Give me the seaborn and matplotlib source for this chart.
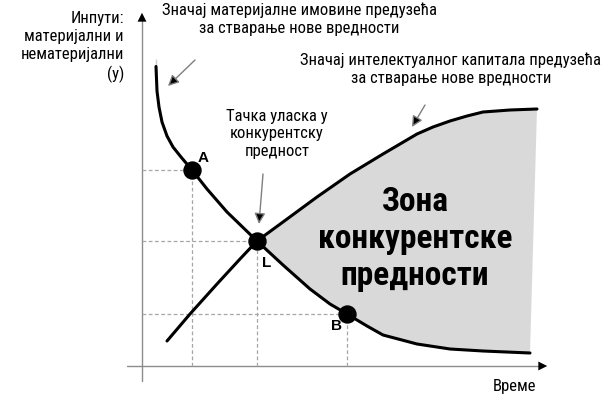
import numpy as np
import pandas as pd
import matplotlib
matplotlib.use("Agg")
import matplotlib.pyplot as plt
import seaborn as sns

# curve values (time, input)
mat_t = [14, 14, 15, 17, 20, 25, 31, 39, 50, 65, 85, 115, 141, 168, 188, 205, 225, 241, 275, 308, 341, 388]
mat_y = [307, 292, 275, 259, 244, 230, 219, 209, 196, 177, 154, 125, 101, 77, 62, 52, 40, 31, 22, 17, 15, 13]
int_t = [25, 48, 75, 98, 115, 141, 175, 208, 241, 275, 291, 308, 325, 341, 368, 395]
int_y = [25, 52, 82, 107, 125, 144, 169, 192, 212, 232, 239, 245, 250, 254, 256, 257]

pt_names = ["A", "L", "B"]
pt_t = [50, 115, 205]
pt_y = [196, 125, 52]

sns.set_theme(style="white")
narrow = ["Roboto Condensed", "DejaVu Sans"]
plt.rcParams["font.family"] = narrow
plt.rcParams["text.color"] = "black"

fig = plt.figure(figsize=(6.12, 4.06), dpi=100)
ax = fig.add_axes([0, 0, 1, 1])
ax.set_xlim(-142, 470)
ax.set_ylim(-39, 367)
ax.axis("off")

mat = pd.DataFrame({"t": mat_t, "y": mat_y})
intel = pd.DataFrame({"t": int_t, "y": int_y})

# shaded zone between the curves, right of L
i_l = int_t.index(115)
m_l = mat_t.index(115)
zone_t = int_t[i_l:] + mat_t[m_l:][::-1]
zone_y = int_y[i_l:] + mat_y[m_l:][::-1]
ax.fill(zone_t, zone_y, color="#d9d9d9", lw=0, zorder=1)

# axes with arrow heads
ax.plot([0, 0], [-15, 345], color="#8c8c8c", lw=1, zorder=2)
ax.plot([-15, 397], [0, 0], color="#8c8c8c", lw=1, zorder=2)
ax.annotate("", xy=(0, 356), xytext=(0, 340),
            arrowprops=dict(arrowstyle="-|>", color="black", lw=0, mutation_scale=16), zorder=3)
ax.annotate("", xy=(408, 0), xytext=(392, 0),
            arrowprops=dict(arrowstyle="-|>", color="black", lw=0, mutation_scale=16), zorder=3)

# dashed guides
for t, y in zip(pt_t, pt_y):
    ax.plot([0, t], [y, y], ls=(0, (3, 2)), color="#a6a6a6", lw=0.9, zorder=2)
    ax.plot([t, t], [0, y], ls=(0, (3, 2)), color="#a6a6a6", lw=0.9, zorder=2)

sns.lineplot(data=mat, x="t", y="y", sort=False, color="black", lw=2.2, ax=ax, zorder=4)
sns.lineplot(data=intel, x="t", y="y", sort=False, color="black", lw=2.2, ax=ax, zorder=4)
for ln in ax.lines[-2:]:
    ln.set_solid_joinstyle("round")
sns.scatterplot(x=pt_t, y=pt_y, color="black", s=150, edgecolor="black", ax=ax, zorder=5)

lab_off = {"A": (11, 13), "L": (10, -21), "B": (-10, -11)}
for n, t, y in zip(pt_names, pt_t, pt_y):
    dx, dy = lab_off[n]
    ax.text(t + dx, y + dy, n, fontsize=11, fontweight="bold",
            family=["Liberation Sans", "DejaVu Sans"], ha="center", va="center", zorder=6)

# annotation arrows
arrows = [((53, 306), (26, 280)), ((283, 261), (270, 239)), ((121, 192), (117, 142))]
for tail, head in arrows:
    ax.annotate("", xy=head, xytext=tail,
                arrowprops=dict(arrowstyle="-|>", fc="black", ec="#7f7f7f", lw=1,
                                mutation_scale=16, shrinkA=0, shrinkB=0), zorder=6)

fs = 12
ax.text(-18, 356, "Инпути:\nматеријални и\nнематеријални\n(у)", ha="right", va="top",
        fontsize=fs, linespacing=1.25)
ax.text(157, 364, "Значај материјалне имовине предузећа\nза стварање нове вредности",
        ha="center", va="top", fontsize=fs, linespacing=1.25)
ax.text(309, 315, "Значај интелектуалног капитала предузећа\nза стварање нове вредности",
        ha="center", va="top", fontsize=fs, linespacing=1.25)
ax.text(135, 258, "Тачка уласка у\nконкурентску\nпредност",
        ha="center", va="top", fontsize=fs, linespacing=1.2)
ax.text(273, 128, "Зона\nконкурентске\nпредности", ha="center", va="center",
        fontsize=24, fontweight="bold", linespacing=1.2, zorder=6)
ax.text(373, -20, "Време", ha="center", va="center", fontsize=fs)

fig.savefig("out.png", dpi=100, facecolor="white")
